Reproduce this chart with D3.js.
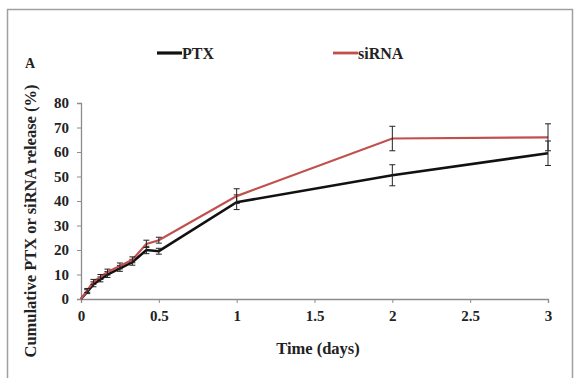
<!DOCTYPE html>
<html>
<head>
<meta charset="utf-8">
<script src="https://cdn.jsdelivr.net/npm/d3@7"></script>
<style>
  body { margin: 0; background: #fff; }
  text { font-family: "Liberation Serif", "Times New Roman", serif; font-weight: bold; }
</style>
</head>
<body>
<svg id="chart" width="576" height="378"></svg>
<script>
// release data
const timeDays = [0, 0.04, 0.08, 0.125, 0.17, 0.25, 0.33, 0.42, 0.5, 1, 2, 3];
const ptxRelease = [0, 3, 6, 8, 10, 12.5, 15, 20, 19.5, 39.5, 50.5, 59.5];
const ptxErr = [0, 0.8, 1, 1, 1.2, 1.2, 1.2, 1.5, 1.2, 3, 4.3, 5];
const sirnaRelease = [0, 3.5, 7, 9, 11, 13.5, 16, 22.5, 24, 42, 65.5, 66];
const sirnaErr = [0, 0.8, 1, 1, 1.2, 1.2, 1.2, 1.5, 1.2, 3, 5, 5.5];
const xTicks = [0, 0.5, 1, 1.5, 2, 2.5, 3];
const yTicks = [0, 10, 20, 30, 40, 50, 60, 70, 80];

const svg = d3.select("#chart");

// outer frame (bottom edge is cut off in the original)
svg.append("path")
  .attr("d", "M7.5,378 V9.5 H572.5 V378")
  .attr("fill", "none")
  .attr("stroke", "#a0a0a0")
  .attr("stroke-width", 1.5);

const x = d3.scaleLinear().domain([0, 3]).range([81, 548]);
const y = d3.scaleLinear().domain([0, 80]).range([299, 103]);

// y axis
const yAxis = svg.append("g")
  .attr("transform", "translate(81,0)")
  .call(d3.axisLeft(y).tickValues(yTicks).tickSize(4).tickPadding(8));
// x axis
const xAxis = svg.append("g")
  .attr("transform", "translate(0,299)")
  .call(d3.axisBottom(x).tickValues(xTicks).tickFormat(d3.format("")).tickSize(4).tickPadding(7));

[yAxis, xAxis].forEach(g => {
  g.select(".domain").attr("stroke", "#8c8c8c").attr("stroke-width", 1.3);
  g.selectAll(".tick line").attr("stroke", "#8c8c8c");
  g.selectAll(".tick text")
    .attr("fill", "#222")
    .style("font-size", "15px")
    .style("font-family", "'Liberation Serif', serif")
    .style("font-weight", "bold");
});

// axis titles
svg.append("text")
  .attr("x", 318).attr("y", 354)
  .attr("text-anchor", "middle")
  .style("font-size", "16.5px")
  .attr("fill", "#222")
  .text("Time (days)");

svg.append("text")
  .attr("transform", "translate(36,221) rotate(-90)")
  .attr("text-anchor", "middle")
  .style("font-size", "16.5px")
  .attr("fill", "#222")
  .text("Cumulative PTX or siRNA release (%)");

svg.append("text")
  .attr("x", 25).attr("y", 68)
  .style("font-size", "14px")
  .attr("fill", "#222")
  .text("A");

const series = [
  { name: "PTX", vals: ptxRelease, err: ptxErr, color: "#111", width: 2.6, legendX: 157 },
  { name: "siRNA", vals: sirnaRelease, err: sirnaErr, color: "#c0504d", width: 2.2, legendX: 333 }
];

const line = d3.line()
  .x(d => x(d.t))
  .y(d => y(d.v));

series.forEach(s => {
  const pts = timeDays.map((t, i) => ({ t: t, v: s.vals[i], e: s.err[i] }));

  svg.append("path")
    .datum(pts)
    .attr("fill", "none")
    .attr("stroke", s.color)
    .attr("stroke-width", s.width)
    .attr("d", line);

  // error bars
  const eb = svg.append("g")
    .selectAll("g")
    .data(pts.filter(d => d.e > 0))
    .enter()
    .append("g")
    .attr("stroke", "#222")
    .attr("stroke-width", 1);
  eb.append("line")
    .attr("x1", d => x(d.t)).attr("x2", d => x(d.t))
    .attr("y1", d => y(d.v + d.e)).attr("y2", d => y(d.v - d.e));
  eb.append("line")
    .attr("x1", d => x(d.t) - 3).attr("x2", d => x(d.t) + 3)
    .attr("y1", d => y(d.v + d.e)).attr("y2", d => y(d.v + d.e));
  eb.append("line")
    .attr("x1", d => x(d.t) - 3).attr("x2", d => x(d.t) + 3)
    .attr("y1", d => y(d.v - d.e)).attr("y2", d => y(d.v - d.e));

  // legend
  svg.append("line")
    .attr("x1", s.legendX).attr("x2", s.legendX + 25)
    .attr("y1", 53).attr("y2", 53)
    .attr("stroke", s.color)
    .attr("stroke-width", s.width + 0.6);
  svg.append("text")
    .attr("x", s.legendX + 25).attr("y", 59)
    .style("font-size", "16px")
    .attr("fill", "#222")
    .text(s.name);
});
</script>
</body>
</html>
